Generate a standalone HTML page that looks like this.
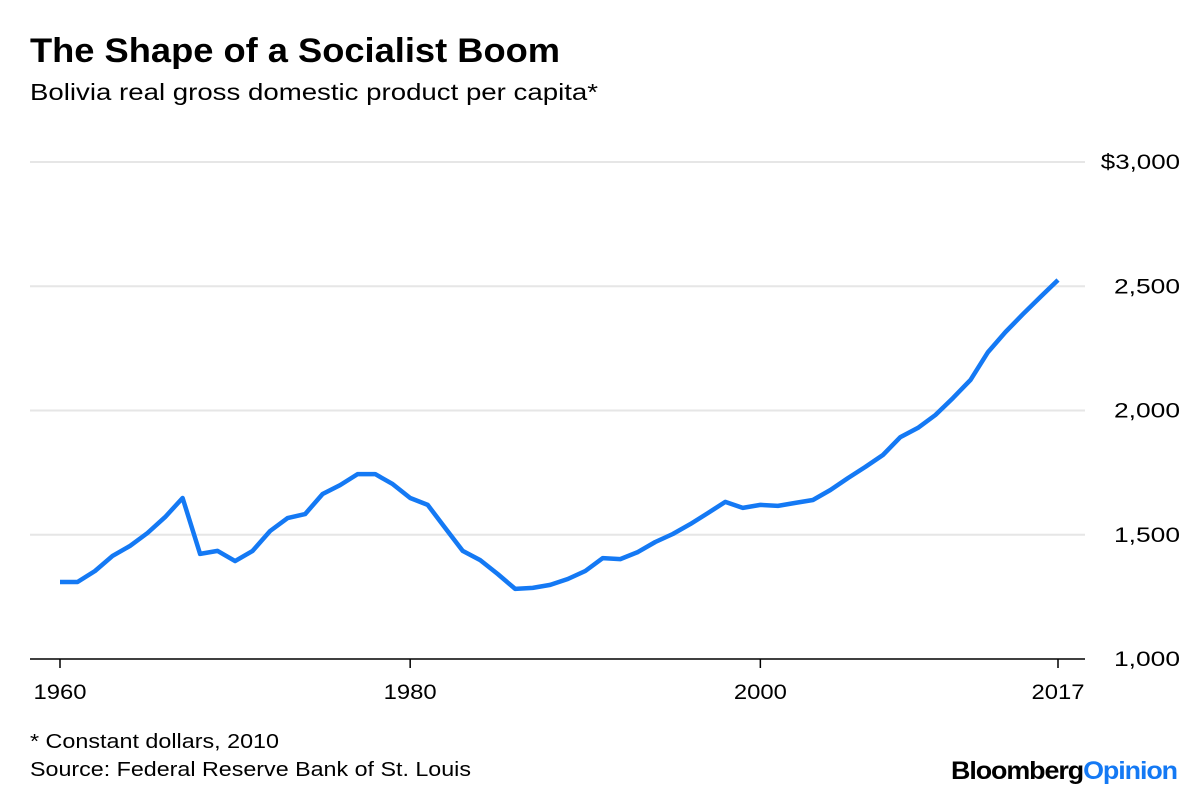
<!DOCTYPE html>
<html><head><meta charset="utf-8"><style>
body{margin:0;background:#fff;width:1200px;height:796px;overflow:hidden;font-family:"Liberation Sans",Arial,sans-serif;}
svg{position:absolute;left:0;top:0}
</style></head><body>
<svg width="1200" height="796">
<text x="30" y="62" font-size="34" font-weight="bold" fill="#000" textLength="530" lengthAdjust="spacingAndGlyphs">The Shape of a Socialist Boom</text>
<text x="30" y="100" font-size="23" fill="#000" textLength="568" lengthAdjust="spacingAndGlyphs">Bolivia real gross domestic product per capita*</text>
<g id="grid"></g>
<g id="xaxis"></g>
<path id="line" fill="none" stroke="#1479f4" stroke-width="4.5" stroke-linejoin="round"/>
<text x="30" y="748" font-size="20" fill="#000" textLength="249" lengthAdjust="spacingAndGlyphs">* Constant dollars, 2010</text>
<text x="30" y="776" font-size="20" fill="#000" textLength="441" lengthAdjust="spacingAndGlyphs">Source: Federal Reserve Bank of St. Louis</text>
<text x="951" y="779" font-size="25" font-weight="bold" textLength="226" lengthAdjust="spacingAndGlyphs" letter-spacing="-1"><tspan fill="#000">Bloomberg</tspan><tspan fill="#1479f4">Opinion</tspan></text>
</svg>
<script>
const years=[];for(let y=1960;y<=2017;y++)years.push(y);
const values=[1310,1310,1354,1415,1455,1507,1571,1648,1423,1435,1394,1435,1515,1567,1583,1664,1700,1744,1744,1704,1648,1620,1527,1435,1398,1342,1282,1286,1298,1322,1354,1406,1402,1430,1471,1503,1543,1587,1632,1608,1620,1616,1628,1640,1680,1728,1773,1821,1893,1930,1982,2050,2123,2235,2316,2388,2457,2525];
const yTicks=[1000,1500,2000,2500,3000];
const yTickLabels=["1,000","1,500","2,000","2,500","$3,000"];
const xTicks=[1960,1980,2000,2017];
const NS="http://www.w3.org/2000/svg";
function X(yr){return 60+(yr-1960)*(1058-60)/57;}
function Y(v){return 659-(v-1000)*(659-162)/2000;}
const grid=document.getElementById('grid');
yTicks.forEach((t,i)=>{
  const l=document.createElementNS(NS,'line');
  l.setAttribute('x1',30);l.setAttribute('x2',1085);l.setAttribute('y1',Y(t));l.setAttribute('y2',Y(t));
  l.setAttribute('stroke',i==0?'#000':'#e6e6e6');l.setAttribute('stroke-width',i==0?1.5:2);
  
  
  grid.appendChild(l);
  const tx=document.createElementNS(NS,'text');
  const lab=yTickLabels[i];
  const w=lab.length*13.2;
  tx.setAttribute('x',1180-w);tx.setAttribute('y',Y(t)+7);tx.setAttribute('font-size','21');
  tx.setAttribute('textLength',w);tx.setAttribute('lengthAdjust','spacingAndGlyphs');
  tx.textContent=lab;
  
  
  grid.appendChild(tx);
});
const xa=document.getElementById('xaxis');
xTicks.forEach(t=>{
  const l=document.createElementNS(NS,'line');
  l.setAttribute('x1',X(t));l.setAttribute('x2',X(t));l.setAttribute('y1',659);l.setAttribute('y2',668);
  l.setAttribute('stroke','#000');l.setAttribute('stroke-width',1.5);
  
  
  xa.appendChild(l);
  const tx=document.createElementNS(NS,'text');
  tx.setAttribute('x',X(t)-26.5);tx.setAttribute('y',699);tx.setAttribute('font-size','21');
  tx.setAttribute('textLength',53);tx.setAttribute('lengthAdjust','spacingAndGlyphs');
  tx.textContent=t;
  
  
  xa.appendChild(tx);
});
document.getElementById('line').setAttribute('d',values.map((v,i)=>(i?'L':'M')+X(years[i]).toFixed(1)+' '+Y(v).toFixed(1)).join(' '));
</script>
</body></html>
